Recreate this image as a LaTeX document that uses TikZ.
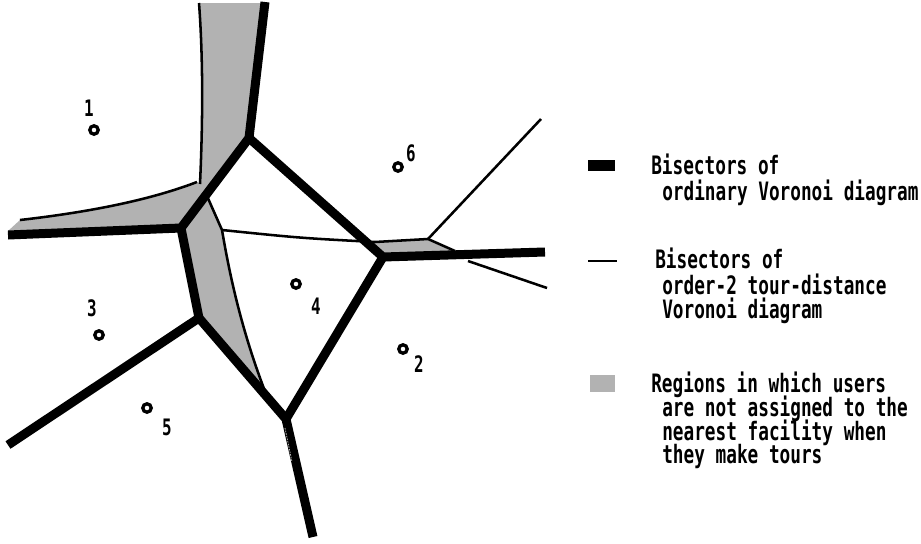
\documentclass[tikz,border=0pt]{standalone}
\usepackage{fontspec}
\newfontfamily\legfont{DejaVu Sans Mono}[FakeStretch=0.70]
\definecolor{dotgray}{gray}{0.70}
\begin{document}
\begin{tikzpicture}[x=0.75pt,y=-0.75pt,
  voro/.style={line width=6.75pt,line join=miter},
  tour/.style={line width=1.9pt,line join=round},
  shade/.style={fill=dotgray,draw=none},
  site/.style={circle,draw,line width=2.5pt,minimum size=6.3pt,inner sep=0pt},
  lab/.style={inner sep=0pt,font=\legfont\bfseries\fontsize{17}{18}\selectfont},
  legtext/.style={anchor=base west,inner sep=0pt,font=\legfont\bfseries\fontsize{19}{21}\selectfont}]
\useasboundingbox (0,0) rectangle (921,543);
\fill[white] (0,0) rectangle (921,543);

% vertices of the ordinary Voronoi diagram
\coordinate (A) at (249,138);
\coordinate (B) at (383,257);
\coordinate (C) at (181,228);
\coordinate (D) at (199,318);
\coordinate (E) at (286,419);
\coordinate (topend) at (265,2);
\coordinate (leftend) at (8,235);
\coordinate (llend) at (8,445);
\coordinate (rend) at (545,252);
\coordinate (botend) at (313,537);

% vertices of the order-2 tour-distance diagram
\coordinate (P) at (222,230);
\coordinate (Q) at (428,239);
\coordinate (tr) at (541,119);
\coordinate (brs) at (468,261);
\coordinate (br) at (547,288);

% shaded regions
\fill[shade] (199,3) .. controls (204,70) and (202,140) .. (200,184)
  -- (214,190) -- (A) -- (263,3) -- cycle;
\fill[shade] (8,231) -- (20,220) .. controls (90,212) and (150,200) .. (197,182)
  -- (214,188) -- (C) -- (leftend) -- cycle;
\fill[shade] (207,196) -- (P) .. controls (228,265) and (240,330) .. (270,404)
  -- (D) -- (C) -- (204,190) -- cycle;
\fill[shade] (372,242) -- (Q) -- (455,251) -- (400,257) -- (380,256) -- cycle;

% bisectors of the order-2 tour-distance diagram
\draw[tour] (199,3) .. controls (204,70) and (202,140) .. (200,184);
\draw[tour] (20,220) .. controls (90,212) and (150,200) .. (197,182);
\draw[tour] (207,196) -- (P) .. controls (228,265) and (240,330) .. (270,404);
\draw[tour] (P) .. controls (300,238) .. (375,242) -- (Q) -- (455,251);
\draw[tour] (Q) -- (tr);
\draw[tour] (brs) -- (br);

% bisectors of the ordinary Voronoi diagram
\draw[voro] (topend) -- (A) -- (C) -- (leftend);
\draw[voro] (A) -- (B) -- (rend);
\draw[voro] (C) -- (D) -- (llend);
\draw[voro] (D) -- (E) -- (botend);
\draw[voro] (B) -- (E);
\draw[dotgray,line width=0.6pt,dash pattern=on 1.2pt off 0.8pt] (285,428) -- (292,462);

% facilities
\node[site] (s1) at (94,130) {};
\node[site] (s2) at (403,349) {};
\node[site] (s3) at (99,335) {};
\node[site] (s4) at (296,284) {};
\node[site] (s5) at (147,408) {};
\node[site] (s6) at (398,167) {};
\node[lab] (l1) at (89,108) {1};
\node[lab] (l2) at (419,364) {2};
\node[lab] (l3) at (92,308) {3};
\node[lab] (l4) at (316,306) {4};
\node[lab] (l5) at (167,427) {5};
\node[lab] (l6) at (411,153) {6};

% legend
\fill (588,160) rectangle (615,171);
\draw[line width=1.5pt] (588,261) -- (617,261);
\fill[dotgray] (590,375) rectangle (615,392);
\node[legtext] (a1) at (651,174) {Bisectors of};
\node[legtext] (a2) at (662,200) {ordinary Voronoi diagram};
\node[legtext] (b1) at (655,268) {Bisectors of};
\node[legtext] (b2) at (662,294) {order-2 tour-distance};
\node[legtext] (b3) at (662,318) {Voronoi diagram};
\node[legtext] (c1) at (651,392) {Regions in which users};
\node[legtext] (c2) at (662,416) {are not assigned to the};
\node[legtext] (c3) at (662,440) {nearest facility when};
\node[legtext] (c4) at (662,463) {they make tours};
\end{tikzpicture}
\end{document}
